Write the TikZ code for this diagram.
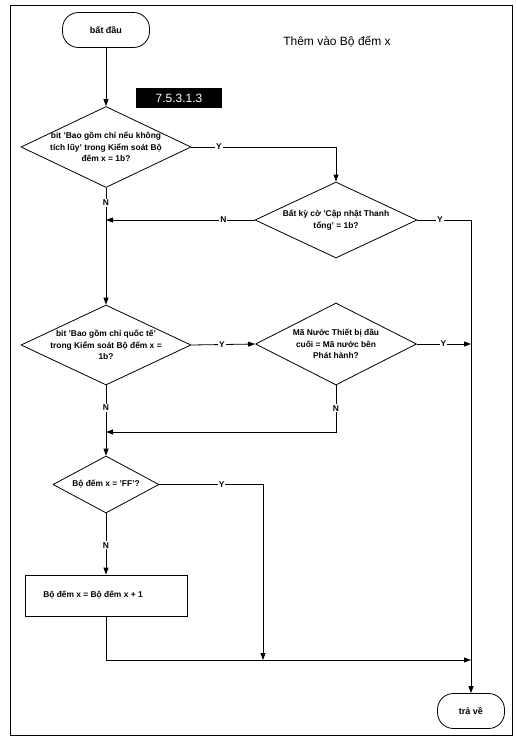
\documentclass[tikz,border=0pt]{standalone}
\usepackage{fontspec}
\setmainfont{Liberation Sans}
\usetikzlibrary{shapes.geometric,arrows.meta}

\begin{document}
\begin{tikzpicture}[x=1pt,y=-1pt,
    line/.style={line width=0.8pt},
    arrow line/.style={line width=0.8pt,-{Triangle[length=7pt,width=5pt]}},
    term node/.style={draw,line width=0.8pt,rectangle,rounded corners=16pt,minimum height=35pt,font=\fontsize{9}{11}\selectfont\bfseries},
    dia node/.style={draw,line width=0.8pt,diamond,inner sep=0pt},
    txt/.style={align=center,font=\fontsize{8.4}{11.5}\selectfont\bfseries},
    yn/.style={fill=white,inner sep=1pt,font=\fontsize{8.4}{9}\selectfont\bfseries}]

    \useasboundingbox (0,0) rectangle (517,740);
    \draw[line width=1pt] (10,5) rectangle (512,735);

    % Define nodes
    \node[term node,minimum width=87pt] (start) at (106,30) {bất đầu};
    \node[font=\fontsize{12}{14}\selectfont] (title) at (337,42) {Thêm vào Bộ đếm x};
    \node[fill=black,text=white,minimum width=86pt,minimum height=20pt,font=\fontsize{12}{14}\selectfont] (tag) at (179,98) {7.5.3.1.3};

    \node[dia node,minimum width=170pt,minimum height=81pt,
          label={[txt]center:bit 'Bao gồm chỉ nếu không\\tích lũy' trong Kiểm soát Bộ\\đếm x = 1b?}] (d1) at (106,147) {};
    \node[dia node,minimum width=162pt,minimum height=76pt,
          label={[txt]center:Bất kỳ cờ 'Cập nhật Thanh\\tổng' = 1b?}] (d2) at (336,220) {};
    \node[dia node,minimum width=170pt,minimum height=80pt,
          label={[txt]center:bit 'Bao gồm chỉ quốc tế'\\trong Kiểm soát Bộ đếm x =\\1b?}] (d3) at (106,345) {};
    \node[dia node,minimum width=161pt,minimum height=82pt,
          label={[txt]center:Mã Nước Thiết bị đầu\\cuối = Mã nước bên\\Phát hành?}] (d4) at (336,344) {};
    \node[dia node,minimum width=106pt,minimum height=57pt,
          label={[txt]center:Bộ đếm x = 'FF'?}] (d5) at (106,484.5) {};
    \node[draw,line width=0.8pt,minimum width=162pt,minimum height=41pt,
          label={[txt,xshift=-13pt]center:Bộ đếm x = Bộ đếm x + 1}] (box) at (106,595.5) {};
    \node[term node,minimum width=67pt] (stop) at (471,711) {trả về};

    \coordinate (back) at (106,432);
    \coordinate (join) at (263,660);

    % Define connectors
    \draw[arrow line] (start) -- (d1.north);
    \draw[arrow line] (d1.east) -- node[yn,pos=0.19] {Y} (d1.east -| d2.north) -- (d2.north);
    \draw[arrow line] (d2.west) -- node[yn,pos=0.21] {N} (d2.west -| d1.south);
    \draw[arrow line] (d2.east) -- node[yn,pos=0.42] {Y} (d2.east -| stop.north) -- (stop.north);
    \draw[arrow line] (d1.south) -- node[yn,pos=0.13] {N} (d3.north);
    \draw[arrow line] (d3.east) -- node[yn,pos=0.48] {Y} (d4.west);
    \draw[arrow line] (d4.east) -- node[yn,pos=0.49] {Y} (d4.east -| stop.north);
    \draw[arrow line] (d4.south) -- node[yn,pos=0.49] {N} (d4.south |- back) -- (back);
    \draw[arrow line] (d3.south) -- node[yn,pos=0.32] {N} (d5.north);
    \draw[arrow line] (d5.east) -- node[yn,pos=0.6] {Y} (d5.east -| join) -- (join);
    \draw[arrow line] (d5.south) -- node[yn,pos=0.52] {N} (box.north);
    \draw[arrow line] (box.south) -- (box.south |- join) -- (join -| stop.north);

\end{tikzpicture}
\end{document}
